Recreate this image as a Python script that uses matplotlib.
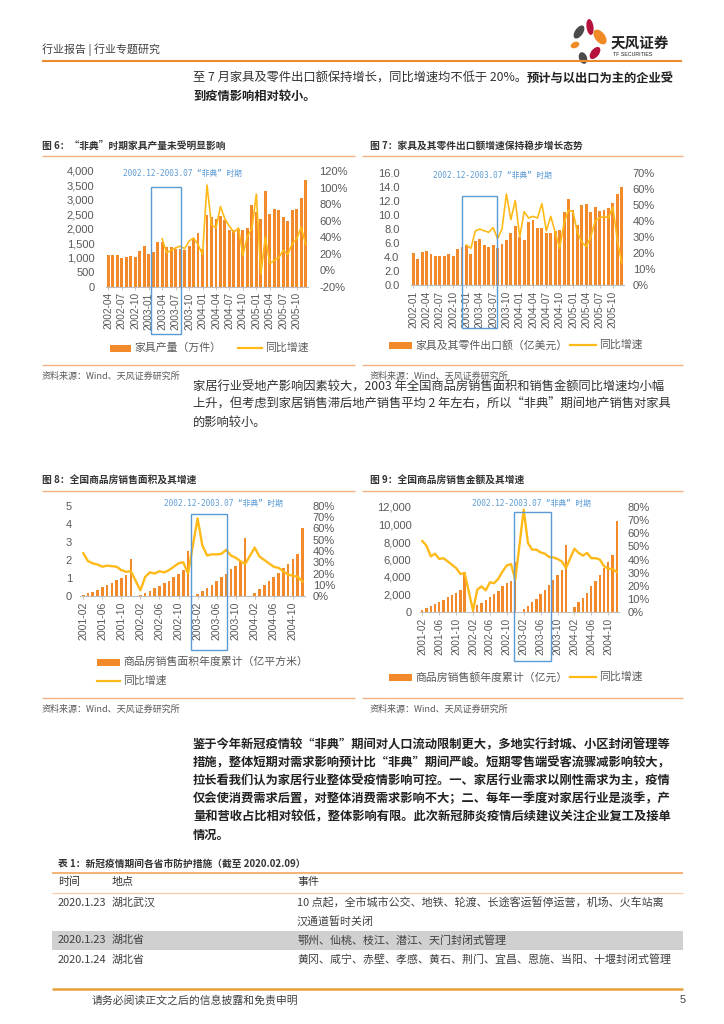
import numpy as np
import pandas as pd
import matplotlib
matplotlib.use('Agg')
import matplotlib.pyplot as plt
from matplotlib.patches import Rectangle, Ellipse
from matplotlib.ticker import FuncFormatter

# %% data
furn_months = list(pd.period_range('2002-04', '2005-12', freq='M').strftime('%Y-%m'))
furn_output = [1110, 1110, 1110, 1000, 1040, 1070, 1040, 1240, 1420, 1120, 1210, 1550,
               1560, 1360, 1370, 1290, 1300, 1270, 1400, 1700, 1850, 1300, 2470, 2400,
               2330, 2430, 2300, 1950, 1950, 2000, 1960, 2030, 2820, 2580, 2350, 3300,
               2520, 2670, 2650, 2400, 2260, 2660, 2680, 3060, 3680]
furn_yoy = [None] * 12 + [38, 21, 24, 27, 29, 26, 35, 39, 31, 19, 103, 55,
                          51, 77, 62, 53, 46, 51, 18, 41, 50, 92, -5, 40,
                          8, 12, 15, 24, 19, 32, 38, 52, 31]

export_months = list(pd.period_range('2002-01', '2005-12', freq='M').strftime('%Y-%m'))
export_value = [4.6, 3.7, 4.7, 4.9, 4.4, 4.1, 4.2, 4.1, 4.4, 4.2, 5.2, 5.4,
                5.7, 4.5, 6.3, 6.6, 5.8, 5.4, 5.7, 5.3, 5.9, 6.5, 7.4, 8.4,
                6.9, 6.5, 9.0, 9.3, 8.2, 8.1, 7.5, 7.5, 7.8, 7.9, 10.4, 12.3,
                10.8, 8.6, 11.4, 11.6, 10.5, 11.2, 10.6, 10.7, 11.0, 11.8, 13.1, 14.0]
export_yoy = [None] * 12 + [25, 23, 34, 35, 34, 33, 36, 29, 35, 57, 41, 53,
                            30, 46, 42, 43, 42, 51, 34, 43, 33, 23, 39, 47,
                            46, 33, 27, 24, 30, 40, 42, 43, 42, 49, 28, 14]

house_months = list(pd.period_range('2001-02', '2004-12', freq='M').strftime('%Y-%m'))
house_area = [0.05, 0.15, 0.25, 0.35, 0.48, 0.6, 0.73, 0.87, 1.0, 1.14, 2.05,
              None, 0.05, 0.17, 0.3, 0.42, 0.55, 0.72, 0.86, 1.07, 1.21, 1.47, 2.48,
              None, 0.13, 0.28, 0.42, 0.59, 0.81, 1.03, 1.23, 1.49, 1.69, 1.95, 3.2,
              None, 0.18, 0.37, 0.59, 0.81, 1.07, 1.29, 1.54, 1.76, 2.06, 2.33, 3.8]
house_area_yoy = [38, 31, 29, 28, 26, 27, 26.5, 26, 23, 21.5, 22,
                  None, 5, 17, 21, 20, 22, 21, 23, 26, 29, 30, 20,
                  None, 69, 45, 36, 37, 37, 37.5, 41, 36, 34, 31, 28.5,
                  None, 43, 35, 32, 29, 26, 25, 22, 19, 18, 17, 13]
house_sales = [230, 420, 650, 880, 1140, 1410, 1680, 1940, 2210, 2510, 4610,
               None, 530, 800, 1070, 1370, 1710, 2060, 2440, 2930, 3310, 3580, 5710,
               None, 340, 720, 1100, 1490, 2100, 2550, 3050, 3700, 4230, 4840, 7700,
               None, 610, 1140, 1600, 2170, 3010, 3540, 4190, 4990, 5680, 6510, 10360]
house_sales_yoy = [54, 50.5, 42.4, 44.4, 40.4, 41, 38.6, 36, 33.5, 29, 29.7,
                   None, 1, 17, 19.5, 16.5, 22.6, 22, 25.4, 31, 35.5, 36.5, 24.6,
                   None, 78, 52.5, 47.5, 47.5, 45.4, 44.4, 41.9, 41.6, 40.4, 38.6, 33.5,
                   None, 48.2, 45, 43, 45, 41, 41, 40, 35, 33, 32.7, 30.5]

# %% style
W, H = 724, 1024
CJK = ['Noto Sans CJK SC', 'DejaVu Sans']
MONO = ['DejaVu Sans Mono', 'Noto Sans CJK SC']
plt.rcParams['font.family'] = ['Liberation Sans', 'Noto Sans CJK SC']

BAR = '#F28A2B'
LINE = '#FFBA19'
BLUE = '#5B9BD5'
TXT = '#333333'
GREY = '#595959'
RULE = '#F4B183'

fig = plt.figure(figsize=(W / 100, H / 100), dpi=100)
page = fig.add_axes([0, 0, 1, 1])
page.set_xlim(0, W)
page.set_ylim(H, 0)
page.axis('off')
page.set_zorder(5)


def txt(x, y, s, size=8.85, color=TXT, weight='normal', ha='left', family=CJK):
    return page.text(x, y, s, fontsize=size, color=color, fontweight=weight,
                     ha=ha, va='center', family=family)


def rule(x0, x1, y, color=RULE, lw=1.0):
    page.plot([x0, x1], [y, y], color=color, lw=lw, solid_capstyle='butt')


def leg_bar(x0, x1, y, label):
    page.add_patch(Rectangle((x0, y - 3.5), x1 - x0, 7, color=BAR, lw=0))
    txt(x1 + 3, y, label, size=7.8, color=GREY)


def leg_line(x0, x1, y, label):
    page.plot([x0, x1], [y, y], color=LINE, lw=1.6)
    txt(x1 + 3, y, label, size=7.8, color=GREY)


def chart(x0, x1, ytop, ybot, months, bars, yoy, ylim, yticks, yfmt, y2lim, y2ticks,
          step, bar_w, lw, lpad, rpad, xfs):
    ax = fig.add_axes([x0 / W, 1 - ybot / H, (x1 - x0) / W, (ybot - ytop) / H])
    xs = np.arange(len(months))
    hb = np.array([np.nan if v is None else v for v in bars], dtype=float)
    ax.bar(xs, hb, width=bar_w, color=BAR, zorder=2)
    ax.set_xlim(-0.6, len(months) - 0.4)
    ax.set_ylim(ylim)
    ax.set_yticks(yticks)
    ax.yaxis.set_major_formatter(FuncFormatter(yfmt))
    ax.set_xticks(xs[::step])
    ax.set_xticklabels(months[::step], rotation=90)
    ax.tick_params(axis='y', length=0, pad=lpad, labelsize=8, labelcolor=GREY)
    ax.tick_params(axis='x', length=2.5, width=0.6, color='#BFBFBF', pad=1.5,
                   labelsize=xfs, labelcolor=GREY)
    for s in ['top', 'left', 'right']:
        ax.spines[s].set_visible(False)
    ax.spines['bottom'].set_color('#BFBFBF')
    ax.spines['bottom'].set_linewidth(0.8)
    ax.patch.set_visible(False)

    ax2 = ax.twinx()
    ly = np.array([np.nan if v is None else v for v in yoy], dtype=float)
    ok = ~np.isnan(ly)
    ax2.plot(xs[ok], ly[ok], color=LINE, lw=lw, solid_joinstyle='round')
    ax2.set_ylim(y2lim)
    ax2.set_yticks(y2ticks)
    ax2.yaxis.set_major_formatter(FuncFormatter(lambda v, p: f'{v:.0f}%'))
    ax2.tick_params(axis='y', length=0, pad=rpad, labelsize=8, labelcolor=GREY)
    for s in ax2.spines.values():
        s.set_visible(False)
    return ax, ax2


def sars_box(x0, x1, y0, y1, tx, ty):
    page.add_patch(Rectangle((x0, y0), x1 - x0, y1 - y0, fill=False, ec=BLUE, lw=1.0))
    txt(tx, ty, '2002.12-2003.07 “非典” 时期', size=5.6, color=BLUE, ha='center', family=MONO)


comma = lambda v, p: f'{v:,.0f}'

# %% header
txt(42, 50, '行业报告 | 行业专题研究', size=7.9, color='#404040')
rule(42, 682, 61, color='#EE8A2E', lw=1.5)
for (cx, cy, w, h, a, c) in [(579, 32, 8, 15, 35, '#4A4A4A'), (590, 27, 7, 16, -8, '#B5123E'),
                             (600, 37, 10, 17, -38, '#F08A24'), (575, 45, 6, 9, 65, '#F08A24'),
                             (595, 53, 8, 14, 38, '#B5123E'), (583, 58, 8, 12, -20, '#4A4A4A')]:
    page.add_patch(Ellipse((cx, cy), w, h, angle=a, color=c, lw=0))
txt(611, 43, '天风证券', size=10.5, color='#222222', weight='bold')
txt(613, 55, 'TF SECURITIES', size=3.8, color='#222222', family=['Liberation Sans'])

# %% paragraph 1
t = txt(193, 78, '至 7 月家具及零件出口额保持增长，同比增速均不低于 20%。')
fig.canvas.draw()
bb = t.get_window_extent(renderer=fig.canvas.get_renderer())
xe = page.transData.inverted().transform((bb.x1, bb.y0))[0]
txt(xe, 78, '预计与以出口为主的企业受', color='#222222', weight='bold')
txt(193, 96, '到疫情影响相对较小。', color='#222222', weight='bold')

# %% figure 6 & 7
txt(42, 146, '图 6：“非典”时期家具产量未受明显影响', size=7.0, weight='bold')
txt(370, 146, '图 7：家具及其零件出口额增速保持稳步增长态势', size=7.0, weight='bold')
rule(42, 355, 156)
rule(362, 683, 156)

chart(105.6, 308.4, 171, 286.7, furn_months, furn_output, furn_yoy,
      (0, 4000), range(0, 4001, 500), comma, (-20, 120), range(-20, 121, 20),
      3, 0.65, 1.2, 8, 8, 7.3)
sars_box(151, 180.7, 186.7, 334, 182, 173)
leg_bar(110, 131, 348, '家具产量（万件）')
leg_line(238, 262, 348, '同比增速')

chart(410.6, 624.4, 173.3, 285, export_months, export_value, export_yoy,
      (0, 16), range(0, 17, 2), lambda v, p: f'{v:.1f}', (0, 70), range(0, 71, 10),
      3, 0.65, 1.2, 8, 6, 7.3)
sars_box(461.7, 497.3, 195.7, 328.3, 492.5, 175)
leg_bar(389, 412, 345, '家具及其零件出口额（亿美元）')
leg_line(570, 596, 345, '同比增速')

rule(42, 355, 365)
rule(362, 683, 365)
txt(42, 376, '资料来源：Wind、天风证券研究所', size=6.5, color=GREY)
txt(370, 376, '资料来源：Wind、天风证券研究所', size=6.5, color=GREY)

# %% paragraph 2
para2 = ['家居行业受地产影响因素较大，2003 年全国商品房销售面积和销售金额同比增速均小幅',
         '上升，但考虑到家居销售滞后地产销售平均 2 年左右，所以“非典”期间地产销售对家具',
         '的影响较小。']
for i, line in enumerate(para2):
    txt(193, 387 + 17.5 * i, line)

# %% figure 8 & 9
txt(42, 481, '图 8：全国商品房销售面积及其增速', size=7.0, weight='bold')
txt(370, 481, '图 9：全国商品房销售金额及其增速', size=7.0, weight='bold')
rule(42, 355, 491)
rule(362, 683, 491)

chart(80.4, 305.2, 506, 596, house_months, house_area, house_area_yoy,
      (0, 5), range(0, 6), lambda v, p: f'{v:.0f}', (0, 80), range(0, 81, 10),
      4, 0.55, 1.7, 6, 5.5, 7.6)
sars_box(190.7, 226.7, 514.3, 650, 223.5, 503)
leg_bar(97, 120, 662, '商品房销售面积年度累计（亿平方米）')
leg_line(97, 120, 681, '同比增速')

chart(419.8, 619.2, 507, 612, house_months, house_sales, house_sales_yoy,
      (0, 12000), range(0, 12001, 2000), comma, (0, 80), range(0, 81, 10),
      4, 0.55, 1.7, 6, 6, 7.3)
sars_box(514.3, 550.7, 511.7, 660.7, 531, 503)
leg_bar(389, 412, 677, '商品房销售额年度累计（亿元）')
leg_line(570, 596, 677, '同比增速')

rule(42, 355, 698)
rule(362, 683, 698)
txt(42, 709, '资料来源：Wind、天风证券研究所', size=6.5, color=GREY)
txt(370, 709, '资料来源：Wind、天风证券研究所', size=6.5, color=GREY)

# %% paragraph 3
para3 = ['鉴于今年新冠疫情较“非典”期间对人口流动限制更大，多地实行封城、小区封闭管理等',
         '措施，整体短期对需求影响预计比“非典”期间严峻。短期零售端受客流骤减影响较大，',
         '拉长看我们认为家居行业整体受疫情影响可控。一、家居行业需求以刚性需求为主，疫情',
         '仅会使消费需求后置，对整体消费需求影响不大；二、每年一季度对家居行业是淡季，产',
         '量和营收占比相对较低，整体影响有限。此次新冠肺炎疫情后续建议关注企业复工及接单',
         '情况。']
for i, line in enumerate(para3):
    txt(193, 745 + 18 * i, line, color='#222222', weight='bold')

# %% table 1
txt(58, 864, '表 1：新冠疫情期间各省市防护措施（截至 2020.02.09）', size=7, weight='bold')
rule(52, 683, 873, color='#F4A55A', lw=1.2)
txt(58, 882, '时间', size=7.9)
txt(112, 882, '地点', size=7.9)
txt(297, 882, '事件', size=7.9)
rule(52, 683, 893, color='#F8CBAD', lw=0.9)
page.add_patch(Rectangle((52, 931), 631, 19, color='#D0D0D0', lw=0))
rows = [('2020.1.23', '湖北武汉', ['10 点起，全市城市公交、地铁、轮渡、长途客运暂停运营，机场、火车站离',
                                  '汉通道暂时关闭'], 903),
        ('2020.1.23', '湖北省', ['鄂州、仙桃、枝江、潜江、天门封闭式管理'], 940),
        ('2020.1.24', '湖北省', ['黄冈、咸宁、赤壁、孝感、黄石、荆门、宜昌、恩施、当阳、十堰封闭式管理'], 960)]
for date, place, event, y in rows:
    txt(58, y, date, size=7.9, color='#404040')
    txt(112, y, place, size=7.9, color='#404040')
    for k, line in enumerate(event):
        txt(297, y + 19 * k, line, size=7.9, color='#404040')

# %% footer
rule(52, 683, 989, color='#E8A13A', lw=1.8)
txt(92, 1000, '请务必阅读正文之后的信息披露和免责申明', size=7.8, color='#404040')
txt(680, 1000, '5', size=7.8, color='#404040', family=['Liberation Sans'])

fig.savefig('out.png', dpi=100)
